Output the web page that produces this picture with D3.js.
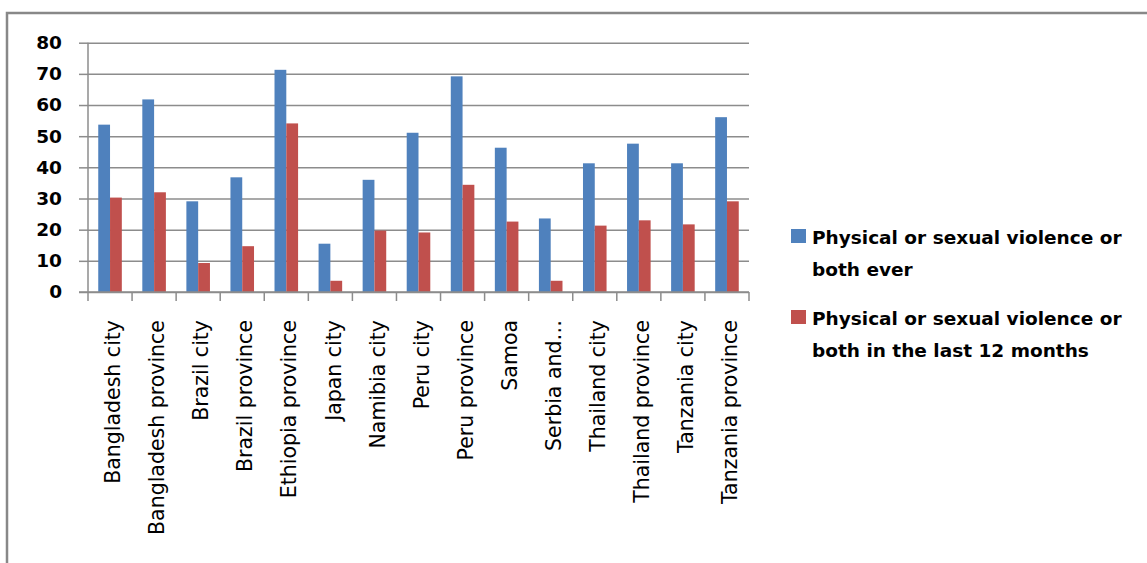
<!DOCTYPE html>
<html>
<head>
<meta charset="utf-8">
<script src="https://cdnjs.cloudflare.com/ajax/libs/d3/7.8.5/d3.min.js"></script>
<style>
  body { margin: 0; background: #fff; }
  svg { display: block; }
</style>
</head>
<body>
<svg class="violence-chart"></svg>
<script>
var categories = ['Bangladesh city', 'Bangladesh province', 'Brazil city', 'Brazil province',
	'Ethiopia province', 'Japan city', 'Namibia city', 'Peru city', 'Peru province', 'Samoa',
	'Serbia and\u2026', 'Thailand city', 'Thailand province', 'Tanzania city', 'Tanzania province'];

var everValues = [53.7, 61.8, 29.1, 36.8, 71.3, 15.5, 36.0, 51.1, 69.2, 46.3, 23.6, 41.3, 47.6, 41.3, 56.1];
var last12Values = [30.3, 32.0, 9.3, 14.7, 54.1, 3.6, 19.7, 19.1, 34.4, 22.6, 3.6, 21.3, 23.0, 21.7, 29.1];

var seriesNames = ['Physical or sexual violence or both ever',
	'Physical or sexual violence or both in the last 12 months'];
var legendLines = [['Physical or sexual violence or', 'both ever'],
	['Physical or sexual violence or', 'both in the last 12 months']];
var yTicks = [0, 10, 20, 30, 40, 50, 60, 70, 80];

var colors = ['#4f81bd', '#c0504d'];

var w = 1147, h = 563;
var plotLeft = 88, plotRight = 749, plotTop = 42.7, plotBottom = 292;

var svg = d3.select('.violence-chart')
	.attr('width', w)
	.attr('height', h);

// outer frame, only top and left edges show in the picture
svg.append('rect')
	.attr('x', 7).attr('y', 13)
	.attr('width', w + 20).attr('height', h + 20)
	.attr('fill', 'none')
	.attr('stroke', '#888')
	.attr('stroke-width', 2.5);

var y = d3.scaleLinear().domain([0, 80]).range([plotBottom, plotTop]);
var xb = d3.scaleBand().domain(categories).range([plotLeft, plotRight]);
var x0 = d3.scaleBand().domain(categories).range([plotLeft, plotRight])
	.paddingInner(0.465).paddingOuter(0.2325);
var x1 = d3.scaleBand().domain([0, 1]).range([0, x0.bandwidth()]);

// gridlines
svg.append('g')
	.attr('transform', 'translate(' + plotLeft + ',0)')
	.call(d3.axisLeft(y).tickValues(yTicks).tickSize(-(plotRight - plotLeft)).tickFormat(''))
	.call(function(g) {
		g.select('.domain').remove();
		g.selectAll('line').attr('stroke', '#8c8c8c').attr('stroke-width', 1.5);
	});

// bars
var groups = svg.selectAll('.group')
	.data(categories)
  .enter().append('g')
	.attr('class', 'group')
	.attr('transform', function(d) { return 'translate(' + x0(d) + ',0)' });

groups.selectAll('rect')
	.data(function(d, i) { return [everValues[i], last12Values[i]] })
  .enter().append('rect')
	.attr('x', function(d, i) { return x1(i) })
	.attr('width', x1.bandwidth())
	.attr('y', function(d) { return y(d) })
	.attr('height', function(d) { return plotBottom - y(d) })
	.attr('fill', function(d, i) { return colors[i] });

// y axis
svg.append('g')
	.attr('transform', 'translate(' + plotLeft + ',0)')
	.call(d3.axisLeft(y).tickValues(yTicks).tickSize(9).tickPadding(17))
	.call(function(g) {
		g.select('.domain').attr('d', 'M0,' + plotTop + 'V' + (plotBottom + 9))
			.attr('stroke', '#8c8c8c').attr('stroke-width', 1.5);
		g.selectAll('line').attr('stroke', '#8c8c8c').attr('stroke-width', 1.5);
		g.selectAll('text')
			.attr('fill', '#000')
			.style('font-family', '"DejaVu Sans", sans-serif')
			.style('font-weight', 'bold')
			.style('font-size', '18.5px');
	});

// x axis line and boundary ticks
svg.append('line')
	.attr('x1', plotLeft - 9).attr('x2', plotRight)
	.attr('y1', plotBottom).attr('y2', plotBottom)
	.attr('stroke', '#8c8c8c').attr('stroke-width', 1.5);

var lastCat = categories[categories.length - 1];
svg.selectAll('.xtick')
	.data(categories.slice(1).concat([null]))
  .enter().append('line')
	.attr('class', 'xtick')
	.attr('x1', function(d) { return d ? xb(d) : xb(lastCat) + xb.step() })
	.attr('x2', function(d) { return d ? xb(d) : xb(lastCat) + xb.step() })
	.attr('y1', plotBottom).attr('y2', plotBottom + 9)
	.attr('stroke', '#8c8c8c').attr('stroke-width', 1.5);

svg.selectAll('.xlabel')
	.data(categories)
  .enter().append('text')
	.attr('class', 'xlabel')
	.attr('transform', function(d) { return 'translate(' + (xb(d) + xb.bandwidth() / 2 + 3) + ',320) rotate(-90)' })
	.attr('text-anchor', 'end')
	.attr('dy', '0.35em')
	.style('font-family', '"DejaVu Sans", sans-serif')
	.style('font-size', '20.5px')
	.text(function(d) { return d });

// legend
var legend = svg.selectAll('.legend')
	.data(seriesNames)
  .enter().append('g')
	.attr('class', 'legend')
	.attr('transform', function(d, i) { return 'translate(791,' + (229 + i * 81) + ')' });

legend.append('rect')
	.attr('width', 15).attr('height', 14)
	.attr('fill', function(d, i) { return colors[i] });

legend.append('text')
	.style('font-family', '"DejaVu Sans", sans-serif')
	.style('font-weight', 'bold')
	.style('font-size', '18.5px')
	.selectAll('tspan')
	.data(function(d, i) { return legendLines[i] })
  .enter().append('tspan')
	.attr('x', 21)
	.attr('y', function(d, j) { return 15 + j * 31.5 })
	.text(function(d) { return d });
</script>
</body>
</html>
